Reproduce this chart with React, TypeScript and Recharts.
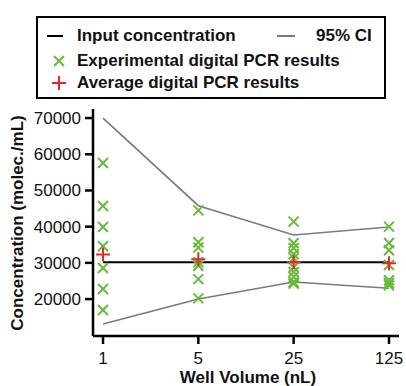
import React from "react";
import {
  ComposedChart,
  Line,
  Scatter,
  XAxis,
  YAxis,
} from "recharts";

// well volumes (nL), drawn evenly spaced (log5 scale)
const volumes = ["1", "5", "25", "125"];

const inputConcentration = [30200, 30200, 30200, 30200];
const ciUpper = [70000, 45800, 37700, 39900];
const ciLower = [13100, 20000, 24700, 23000];
const averageResults = [32300, 31000, 30200, 29900];

const experimental1 = [57600, 45700, 39900, 34600, 28600, 22800, 17000];
const experimental5 = [44500, 35700, 34200, 30200, 29200, 25500, 20200];
const experimental25 = [41400, 35400, 34100, 32400, 31300, 28800, 27500, 26100, 24700, 24300];
const experimental125 = [40000, 35500, 33500, 29400, 25200, 24400, 23800];

const yTicks = [20000, 30000, 40000, 50000, 60000, 70000];

const GREEN = "#66bb3c";
const RED = "#e8262b";
const GRAY = "#7a7a7a";
const FONT = "'Liberation Sans', Arial, sans-serif";

const lineData = volumes.map((v, i) => ({
  x: i,
  input: inputConcentration[i],
  upper: ciUpper[i],
  lower: ciLower[i],
}));

const expPoints = [experimental1, experimental5, experimental25, experimental125].flatMap(
  (vals, i) => vals.map((y) => ({ x: i, y }))
);

const avgPoints = averageResults.map((y, i) => ({ x: i, y }));

const xDomain = [-0.105, 3.105];

const CrossX = (props: any) => {
  const { cx, cy } = props;
  const s = 5;
  return (
    <path
      d={`M${cx - s},${cy - s}L${cx + s},${cy + s}M${cx - s},${cy + s}L${cx + s},${cy - s}`}
      stroke={GREEN}
      strokeWidth={2}
      fill="none"
    />
  );
};

const Plus = (props: any) => {
  const { cx, cy } = props;
  const s = 7;
  return (
    <path
      d={`M${cx - s},${cy}L${cx + s},${cy}M${cx},${cy - s}L${cx},${cy + s}`}
      stroke={RED}
      strokeWidth={2}
      fill="none"
    />
  );
};

function LegendBox() {
  const text = { fontWeight: 700, fontSize: 17, color: "#111" };
  return (
    <div
      style={{
        position: "absolute",
        left: 36,
        top: 16,
        width: 346,
        height: 79,
        border: "2px solid #000",
        fontFamily: FONT,
        background: "#fff",
      }}
    >
      <div style={{ position: "absolute", left: 9, top: 8, display: "flex", alignItems: "center" }}>
        <svg width={16} height={10}>
          <line x1={0} y1={5} x2={16} y2={5} stroke="#000" strokeWidth={2} />
        </svg>
        <span style={{ ...text, marginLeft: 14 }}>Input concentration</span>
      </div>
      <div style={{ position: "absolute", left: 239, top: 8, display: "flex", alignItems: "center" }}>
        <svg width={18} height={10}>
          <line x1={0} y1={5} x2={18} y2={5} stroke={GRAY} strokeWidth={2} />
        </svg>
        <span style={{ ...text, marginLeft: 21 }}>95% CI</span>
      </div>
      <div style={{ position: "absolute", left: 9, top: 33, display: "flex", alignItems: "center" }}>
        <svg width={24} height={14}>
          <path d="M7,2L17,12M7,12L17,2" stroke={GREEN} strokeWidth={2} fill="none" />
        </svg>
        <span style={{ ...text, marginLeft: 6 }}>Experimental digital PCR results</span>
      </div>
      <div style={{ position: "absolute", left: 9, top: 55, display: "flex", alignItems: "center" }}>
        <svg width={24} height={16}>
          <path d="M5,8L19,8M12,1L12,15" stroke={RED} strokeWidth={2} fill="none" />
        </svg>
        <span style={{ ...text, marginLeft: 6 }}>Average digital PCR results</span>
      </div>
    </div>
  );
}

export default function App() {
  return (
    <div
      style={{
        position: "absolute",
        left: 0,
        top: 0,
        width: 406,
        height: 386,
        background: "#fff",
        fontFamily: FONT,
      }}
    >
      <ComposedChart
        width={406}
        height={386}
        data={lineData}
        margin={{ top: 109, right: 7, bottom: 10, left: 28 }}
      >
        <XAxis
          dataKey="x"
          type="number"
          domain={xDomain}
          ticks={[0, 1, 2, 3]}
          tickFormatter={(v: number) => volumes[v]}
          allowDataOverflow
          height={40}
          axisLine={{ stroke: "#000", strokeWidth: 2.5 }}
          tickLine={{ stroke: "#000", strokeWidth: 2.5 }}
          tickSize={8}
          tickMargin={8}
          tick={{ fill: "#111", fontSize: 17, fontFamily: FONT }}
          label={{
            content: () => (
              <text
                x={248}
                y={383}
                textAnchor="middle"
                fontFamily={FONT}
                fontSize={17}
                fontWeight={700}
                fill="#111"
              >
                Well Volume (nL)
              </text>
            ),
          }}
        />
        <XAxis
          xAxisId="top"
          orientation="top"
          type="number"
          domain={xDomain}
          height={0}
          tick={false}
          tickLine={false}
          axisLine={{ stroke: "#000", strokeWidth: 2.5 }}
        />
        <YAxis
          type="number"
          domain={[9800, 72500]}
          ticks={yTicks}
          allowDataOverflow
          width={65}
          axisLine={{ stroke: "#000", strokeWidth: 2.5 }}
          tickLine={{ stroke: "#000", strokeWidth: 2.5 }}
          tickSize={8}
          tickMargin={4}
          tick={{ fill: "#111", fontSize: 17, fontFamily: FONT }}
          label={{
            content: () => (
              <text
                x={23}
                y={223}
                transform="rotate(-90 23 223)"
                textAnchor="middle"
                fontFamily={FONT}
                fontSize={17}
                fontWeight={700}
                fill="#111"
              >
                Concentration (molec./mL)
              </text>
            ),
          }}
        />
        <YAxis
          yAxisId="right"
          orientation="right"
          width={0}
          tick={false}
          tickLine={false}
          axisLine={{ stroke: "#000", strokeWidth: 2.5 }}
        />
        <Line
          dataKey="upper"
          stroke={GRAY}
          strokeWidth={1.6}
          dot={false}
          activeDot={false}
          isAnimationActive={false}
        />
        <Line
          dataKey="lower"
          stroke={GRAY}
          strokeWidth={1.6}
          dot={false}
          activeDot={false}
          isAnimationActive={false}
        />
        <Line
          dataKey="input"
          stroke="#000"
          strokeWidth={2}
          dot={false}
          activeDot={false}
          isAnimationActive={false}
        />
        <Scatter data={expPoints} dataKey="y" shape={CrossX} isAnimationActive={false} />
        <Scatter data={avgPoints} dataKey="y" shape={Plus} isAnimationActive={false} />
      </ComposedChart>
      <LegendBox />
    </div>
  );
}
